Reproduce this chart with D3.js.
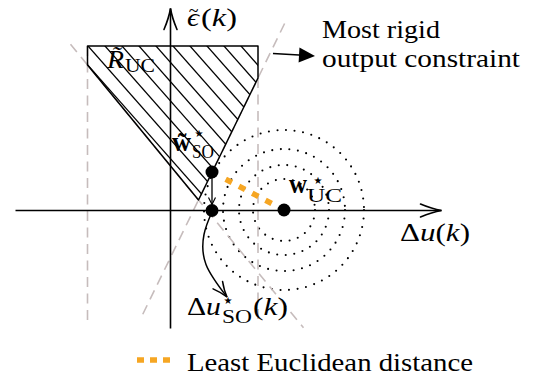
<!DOCTYPE html>
<html><head><meta charset="utf-8">
<script src="https://cdn.jsdelivr.net/npm/d3@7"></script>
<style>
body{margin:0;background:#fff}
svg{display:block}
</style>
</head><body>
<svg id="c" width="538" height="380"></svg>
<script>
// ---- data (diagram coordinates) ----
const axisXRange = [-15.5, 27.1];
const axisYRange = [-11.8, 20.2];
const regionPts = [[-8.3,16.45],[8.75,16.45],[8.75,13.25],[2.8,1.05],[-8.3,14.55]];
const constraintLines = [
  [[-8.3,16.45],[-8.3,-10.95]],
  [[8.75,13.25],[8.75,-11.2]],
  [[-10.0,16.62],[13.3,-11.72]],
  [[11.41,18.7],[-2.98,-10.8]]
];
const wUC  = [11.35, 0.05];
const wSOt = [4.15, 3.85];
const wSO  = [4.15, 0];
const radii = [3.1, 4.5, 6.1, 8.0];
const soCurve = [[4.15,-0.15],[3.35,-2.4],[3.55,-5.4],[5.65,-8.65]];
const rigidArrow = [[10.25,15.7],[14.45,15.45]];
const labels = {
  region: "R\u0303", regionSub: "UC", eps: "\u03f5", wt: "w\u0303",
  note1: "Most rigid", note2: "output constraint", legend: "Least Euclidean distance"
};

const SERIF = '"Liberation Serif", serif';
const svg = d3.select("#c");
const x = d3.scaleLinear().domain([0,10]).range([170.5,270.5]);
const y = d3.scaleLinear().domain([0,10]).range([210.5,110.5]);
const px = p => [x(p[0]), y(p[1])];
const gray = "#c6bcbc", orange = "#f6a623";

// dotted circles
svg.append("g").selectAll("circle").data(radii).join("circle")
  .attr("cx", x(wUC[0])).attr("cy", y(wUC[1]))
  .attr("r", d => x(d) - x(0))
  .attr("fill","none").attr("stroke","#000").attr("stroke-width",2.1)
  .attr("stroke-linecap","round").attr("stroke-dasharray","0 8.6");

// dashed constraint lines
svg.append("g").selectAll("line").data(constraintLines).join("line")
  .attr("x1", d => x(d[0][0])).attr("y1", d => y(d[0][1]))
  .attr("x2", d => x(d[1][0])).attr("y2", d => y(d[1][1]))
  .attr("stroke", gray).attr("stroke-width",1.6).attr("stroke-dasharray","10 6.5");

// hatched region
const regionPath = "M" + regionPts.map(px).map(p => p.join(",")).join("L") + "Z";
svg.append("clipPath").attr("id","reg").append("path").attr("d", regionPath);
const topY = y(regionPts[0][1]);
const hatch = svg.append("g").attr("clip-path","url(#reg)");
for (let t = 105 - 17*8; t < 420; t += 17) {
  hatch.append("line").attr("x1", t - 60).attr("y1", topY - 68)
    .attr("x2", t + 300).attr("y2", topY + 340)
    .attr("stroke","#000").attr("stroke-width",1.3);
}
svg.append("path").attr("d", regionPath).attr("fill","none")
  .attr("stroke","#000").attr("stroke-width",1.5).attr("stroke-linejoin","round");

// arrowhead helper ("to" style)
function arrowTo(g, tip, ang, len, half, w) {
  const c = Math.cos(ang), s = Math.sin(ang);
  const bx = tip[0] - c*len, by = tip[1] - s*len;
  const a1 = [bx - s*half, by + c*half], a2 = [bx + s*half, by - c*half];
  const m1 = [tip[0] - c*len*0.45 - s*half*0.25, tip[1] - s*len*0.45 + c*half*0.25];
  const m2 = [tip[0] - c*len*0.45 + s*half*0.25, tip[1] - s*len*0.45 - c*half*0.25];
  g.append("path").attr("d", `M${a1}Q${m1} ${tip}Q${m2} ${a2}`)
    .attr("fill","none").attr("stroke","#000").attr("stroke-width",w).attr("stroke-linecap","round");
}

// axes
const ax = svg.append("g");
const xl = x(axisXRange[0]), xr = x(axisXRange[1]), y0 = y(0);
ax.append("line").attr("x1",xl).attr("y1",y0).attr("x2",xr).attr("y2",y0)
  .attr("stroke","#000").attr("stroke-width",1.6);
arrowTo(ax, [xr, y0], 0, 21, 6.5, 1.6);
const yb = y(axisYRange[0]), yt = y(axisYRange[1]), x0 = x(0);
ax.append("line").attr("x1",x0).attr("y1",yb).attr("x2",x0).attr("y2",yt)
  .attr("stroke","#000").attr("stroke-width",1.6);
arrowTo(ax, [x0, yt], -Math.PI/2, 21, 6.5, 1.6);

// least euclidean distance (orange dotted)
const pA = px(wSOt), pB = px(wUC);
const lerp = (t) => [pA[0] + (pB[0]-pA[0])*t, pA[1] + (pB[1]-pA[1])*t];
const o1 = lerp(0.19), o2 = lerp(0.83);
svg.append("line").attr("x1",o1[0]).attr("y1",o1[1]).attr("x2",o2[0]).attr("y2",o2[1])
  .attr("stroke",orange).attr("stroke-width",5.5).attr("stroke-dasharray","7 8");

// projection arrow from w~SO to wSO
const pS = px(wSO);
svg.append("line").attr("x1",pA[0]).attr("y1",pA[1]).attr("x2",pS[0]).attr("y2",pS[1]-7)
  .attr("stroke","#000").attr("stroke-width",1.3);
svg.append("path").attr("d",`M${pS[0]-3.5},${pS[1]-13}L${pS[0]},${pS[1]-6}L${pS[0]+3.5},${pS[1]-13}`)
  .attr("fill","none").attr("stroke","#000").attr("stroke-width",1.2);

// curved arrow to Δu_SO label
const cpath = svg.append("path")
  .attr("d", d3.line().x(d=>x(d[0])).y(d=>y(d[1])).curve(d3.curveNatural)(soCurve))
  .attr("fill","none").attr("stroke","#000").attr("stroke-width",1.5);
{
  const node = cpath.node(), L = node.getTotalLength();
  const e = node.getPointAtLength(L), b = node.getPointAtLength(L-6);
  arrowTo(svg, [e.x,e.y], Math.atan2(e.y-b.y, e.x-b.x), 15, 6, 1.5);
}

// rigid constraint arrow
{
  const a = px(rigidArrow[0]), b = px(rigidArrow[1]);
  const ang = Math.atan2(b[1]-a[1], b[0]-a[0]);
  const c = Math.cos(ang), s = Math.sin(ang), L = 16, H = 7.5;
  const bx = b[0]-c*L, by = b[1]-s*L;
  svg.append("line").attr("x1",a[0]).attr("y1",a[1]).attr("x2",bx).attr("y2",by)
    .attr("stroke","#000").attr("stroke-width",1.6);
  svg.append("path").attr("d",`M${b}L${bx-s*H},${by+c*H}L${bx+s*H},${by-c*H}Z`).attr("fill","#000");
}

// points
svg.append("g").selectAll("circle").data([wSOt, wSO, wUC]).join("circle")
  .attr("cx", d=>x(d[0])).attr("cy", d=>y(d[1])).attr("r",6.5).attr("fill","#000");

// ---- text ----
function txt(xp, yp, size, str, opts={}) {
  const t = svg.append("text").attr("x",xp).attr("y",yp).attr("font-size",size)
    .style("font-family", opts.family || SERIF).attr("fill","#000").text(str);
  if (opts.italic) t.attr("font-style","italic");
  if (opts.bold) t.attr("font-weight","bold");
  if (opts.len) t.attr("textLength",opts.len).attr("lengthAdjust","spacingAndGlyphs");
  if (opts.anchor) t.attr("text-anchor",opts.anchor);
  return t;
}
function mtext(xp, yp, size, parts, len) {
  const t = svg.append("text").attr("x",xp).attr("y",yp).attr("font-size",size)
    .style("font-family", SERIF).attr("fill","#000");
  if (len) t.attr("textLength",len).attr("lengthAdjust","spacingAndGlyphs");
  parts.forEach(([s, it]) => { const sp = t.append("tspan").text(s); if (it) sp.attr("font-style","italic"); });
  return t;
}
const star = (xp, yp) => txt(xp, yp, 10, "\u2605", {family:'"DejaVu Sans", sans-serif', anchor:"middle"});

// axis labels
mtext(400, 241, 25, [["Δ",0],["u",1],["(",0],["k",1],[")",0]], 70);
txt(187, 26, 25, labels.eps, {italic:true, len:12});
txt(193.5, 17, 18, "~", {anchor:"middle"});
mtext(201, 26, 25, [["(",0],["k",1],[")",0]], 36);

// region label
txt(107, 68, 25, labels.region, {italic:true, len:17});
txt(125, 72, 19, labels.regionSub, {len:30});

// w~*_SO
txt(172, 151, 27, labels.wt, {bold:true, len:19});
star(199, 137);
txt(192, 158, 18, "SO", {len:22});
// w*_UC
txt(289, 193, 27, "w", {bold:true, len:18});
star(318, 184);
txt(307, 202, 18, "UC", {len:35});
// Δu*_SO(k)
mtext(187, 315, 25, [["Δ",0],["u",1]], 34);
star(228, 304);
txt(222, 323, 18, "SO", {len:30});
mtext(253, 315, 25, [["(",0],["k",1],[")",0]], 35);

// note
txt(322, 38, 26, labels.note1, {len:118});
txt(322, 66.5, 26, labels.note2, {len:198});

// legend
svg.append("line").attr("x1",137).attr("y1",360).attr("x2",174).attr("y2",360)
  .attr("stroke",orange).attr("stroke-width",5.5).attr("stroke-dasharray","7 6");
txt(187, 370.5, 26, labels.legend, {len:286});
</script>
</body></html>
